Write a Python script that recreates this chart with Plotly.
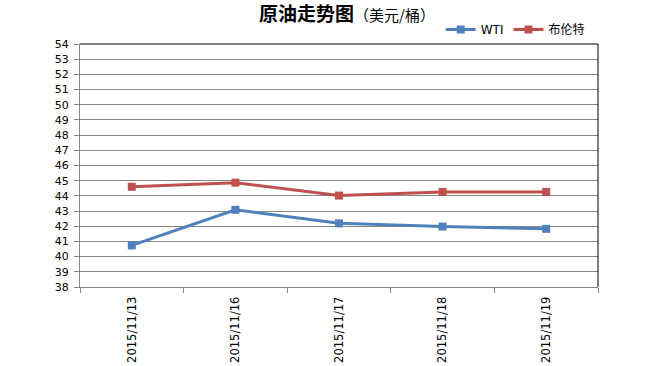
import plotly.graph_objects as go

dates = ["2015/11/13", "2015/11/16", "2015/11/17", "2015/11/18", "2015/11/19"]
wti = [40.74, 43.08, 42.19, 41.98, 41.83]
brent = [44.60, 44.87, 44.02, 44.26, 44.26]
y_ticks = list(range(38, 55))

fig = go.Figure()
fig.add_trace(go.Scatter(x=dates, y=wti, name="WTI", mode="lines+markers",
                         line=dict(color="#4F81BD", width=3),
                         marker=dict(symbol="square", size=8, color="#4F81BD")))
fig.add_trace(go.Scatter(x=dates, y=brent, name="布伦特", mode="lines+markers",
                         line=dict(color="#C0504D", width=3),
                         marker=dict(symbol="square", size=8, color="#C0504D")))

fig.update_layout(
    width=654, height=366,
    margin=dict(l=80, r=56, t=44, b=79, autoexpand=False),
    paper_bgcolor="white", plot_bgcolor="white",
    font=dict(family="DejaVu Sans, Noto Sans CJK SC", size=11, color="black"),
    showlegend=True,
    legend=dict(orientation="h", x=0.984, xanchor="right", y=1.0, yanchor="bottom",
                font=dict(size=12, family="DejaVu Sans, Noto Sans CJK SC"),
                bgcolor="rgba(0,0,0,0)", tracegroupgap=0),
    annotations=[dict(
        text="<b>原油走势图</b><span style='font-size:15px'>（美元/桶）</span>",
        x=0.515, xref="paper", xanchor="center", y=1.0, yref="paper",
        yanchor="middle", yshift=32, showarrow=False,
        font=dict(family="Noto Sans CJK SC", size=19, color="black"))],
)

fig.update_xaxes(type="category", showgrid=False, showline=True, linecolor="#868686",
                 linewidth=1, ticks="outside", tickson="boundaries", ticklen=5,
                 tickcolor="#868686", tickangle=-90, range=[-0.5, 4.5], automargin=False,
                 ticklabelstandoff=4,
                 tickfont=dict(size=11.5, family="DejaVu Sans"))
fig.update_yaxes(range=[38, 54], tickvals=y_ticks, showgrid=True, gridcolor="#868686",
                 gridwidth=1, showline=True, linecolor="#868686", linewidth=1,
                 ticks="outside", ticklen=5, tickcolor="#868686", zeroline=False,
                 automargin=False, ticklabelstandoff=3,
                 tickfont=dict(size=11, family="DejaVu Sans"))

fig.add_shape(type="line", xref="x domain", yref="y domain", x0=0, x1=1, y0=1, y1=1,
              line=dict(color="black", width=1))
fig.add_shape(type="line", xref="x domain", yref="y domain", x0=1, x1=1, y0=0, y1=1,
              line=dict(color="black", width=1))

fig.write_html("out.html", config={"displayModeBar": False},
               post_script="document.body.style.margin='0';")
